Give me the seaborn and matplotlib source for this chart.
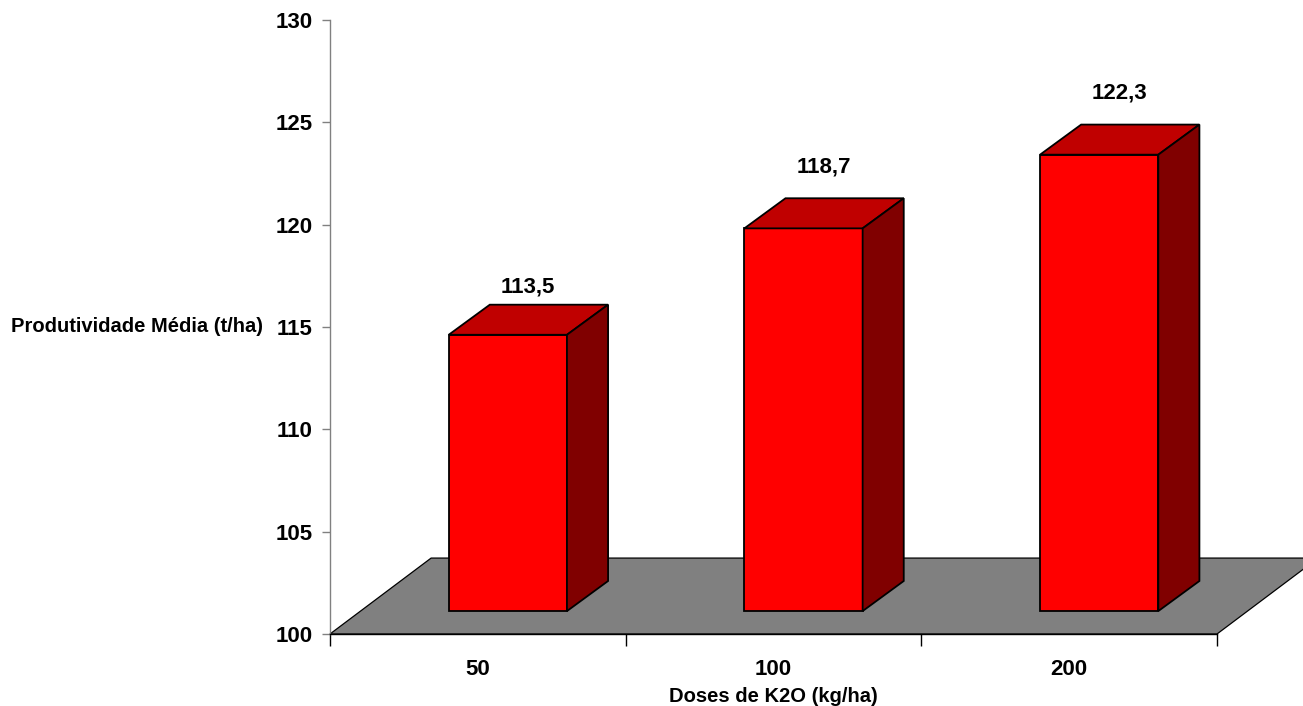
import matplotlib
matplotlib.use("Agg")
import pandas as pd
import matplotlib.pyplot as plt
from matplotlib.patches import Polygon, Rectangle
import seaborn as sns

# Dados do grafico
doses = ["50", "100", "200"]
produtividade = [113.5, 118.7, 122.3]
y_ticks = [100, 105, 110, 115, 120, 125, 130]
label_lift = [51, 61, 61]  # deslocamento do rotulo acima do valor (pontos)

base = 100

sns.set_style("ticks")
plt.rcParams["font.family"] = ["Liberation Sans", "DejaVu Sans"]
plt.rcParams["font.weight"] = "bold"
plt.rcParams["text.color"] = "black"
plt.rcParams["axes.labelcolor"] = "black"
plt.rcParams["xtick.labelcolor"] = "black"
plt.rcParams["ytick.labelcolor"] = "black"

fig = plt.figure(figsize=(13.03, 7.06), dpi=100)
ax = fig.add_axes([330 / 1303, 72 / 706, 887 / 1303, 614 / 706])

# deslocamentos do efeito 3D (em unidades de dados)
floor_dx, floor_dy = 0.342, 3.71
bar_dx, bar_dy = 0.1015, 1.12
depth_dx, depth_dy = 0.139, 1.47

df = pd.DataFrame({"dose": doses, "prod": produtividade})
df["altura"] = df["prod"] - base

sns.barplot(data=df, x="dose", y="altura", bottom=base + bar_dy, width=0.4,
            color="#ff0000", saturation=1, edgecolor="black", linewidth=1.3,
            ax=ax, zorder=3)
ax.set_xlim(-0.5, 2.5)
ax.set_ylim(100, 130)

bars = [p for p in ax.patches if isinstance(p, Rectangle)]

# piso cinza
floor = Polygon([(-0.5, base), (2.5, base), (2.5 + floor_dx, base + floor_dy),
                 (-0.5 + floor_dx, base + floor_dy)], closed=True,
                facecolor="#808080", edgecolor="black", lw=0.9,
                clip_on=False, zorder=1)
ax.add_patch(floor)

for p in bars:
    p.set_x(p.get_x() + bar_dx)
    p.set_clip_on(False)
    x0 = p.get_x()
    x1 = x0 + p.get_width()
    y0 = p.get_y()
    y1 = y0 + p.get_height()
    top = Polygon([(x0, y1), (x1, y1), (x1 + depth_dx, y1 + depth_dy),
                   (x0 + depth_dx, y1 + depth_dy)], closed=True,
                  facecolor="#c00000", edgecolor="black", lw=1.3,
                  clip_on=False, zorder=3)
    side = Polygon([(x1, y0), (x1, y1), (x1 + depth_dx, y1 + depth_dy),
                    (x1 + depth_dx, y0 + depth_dy)], closed=True,
                   facecolor="#800000", edgecolor="black", lw=1.3,
                   clip_on=False, zorder=3)
    ax.add_patch(top)
    ax.add_patch(side)

# rotulos dos valores
for i, v in enumerate(produtividade):
    ax.annotate(f"{v:.1f}".replace(".", ","), xy=(i, v),
                xytext=(36, label_lift[i]), textcoords="offset points",
                ha="center", va="center", fontsize=16, fontweight="bold",
                color="black")

# eixos
ax.set_yticks(y_ticks)
ax.set_xticks([0, 1, 2])
ax.set_xticklabels(doses)
ax.set_xticks([-0.5, 0.5, 1.5, 2.5], minor=True)
ax.tick_params(axis="y", length=5.8, width=1, color="#808080", pad=6.5,
               labelsize=16, labelcolor="black")
ax.tick_params(axis="x", which="major", length=0, pad=18, labelsize=16,
               labelcolor="black")
ax.tick_params(axis="x", which="minor", length=8.6, width=1, color="black")

for s in ["top", "right"]:
    ax.spines[s].set_visible(False)
ax.spines["left"].set_color("#808080")
ax.spines["left"].set_linewidth(1)
ax.spines["bottom"].set_color("black")
ax.spines["bottom"].set_linewidth(1)

ax.set_ylabel("Produtividade Média (t/ha)", rotation=0, ha="right",
              va="center", fontsize=14.5, fontweight="bold", color="black")
ax.yaxis.set_label_coords(-0.0755, 0.5)
ax.set_xlabel("Doses de K2O (kg/ha)", fontsize=14.5, fontweight="bold",
              va="center", color="black")
ax.xaxis.set_label_coords(0.5, -0.101)

plt.savefig("out.png", dpi=100, facecolor="white")
